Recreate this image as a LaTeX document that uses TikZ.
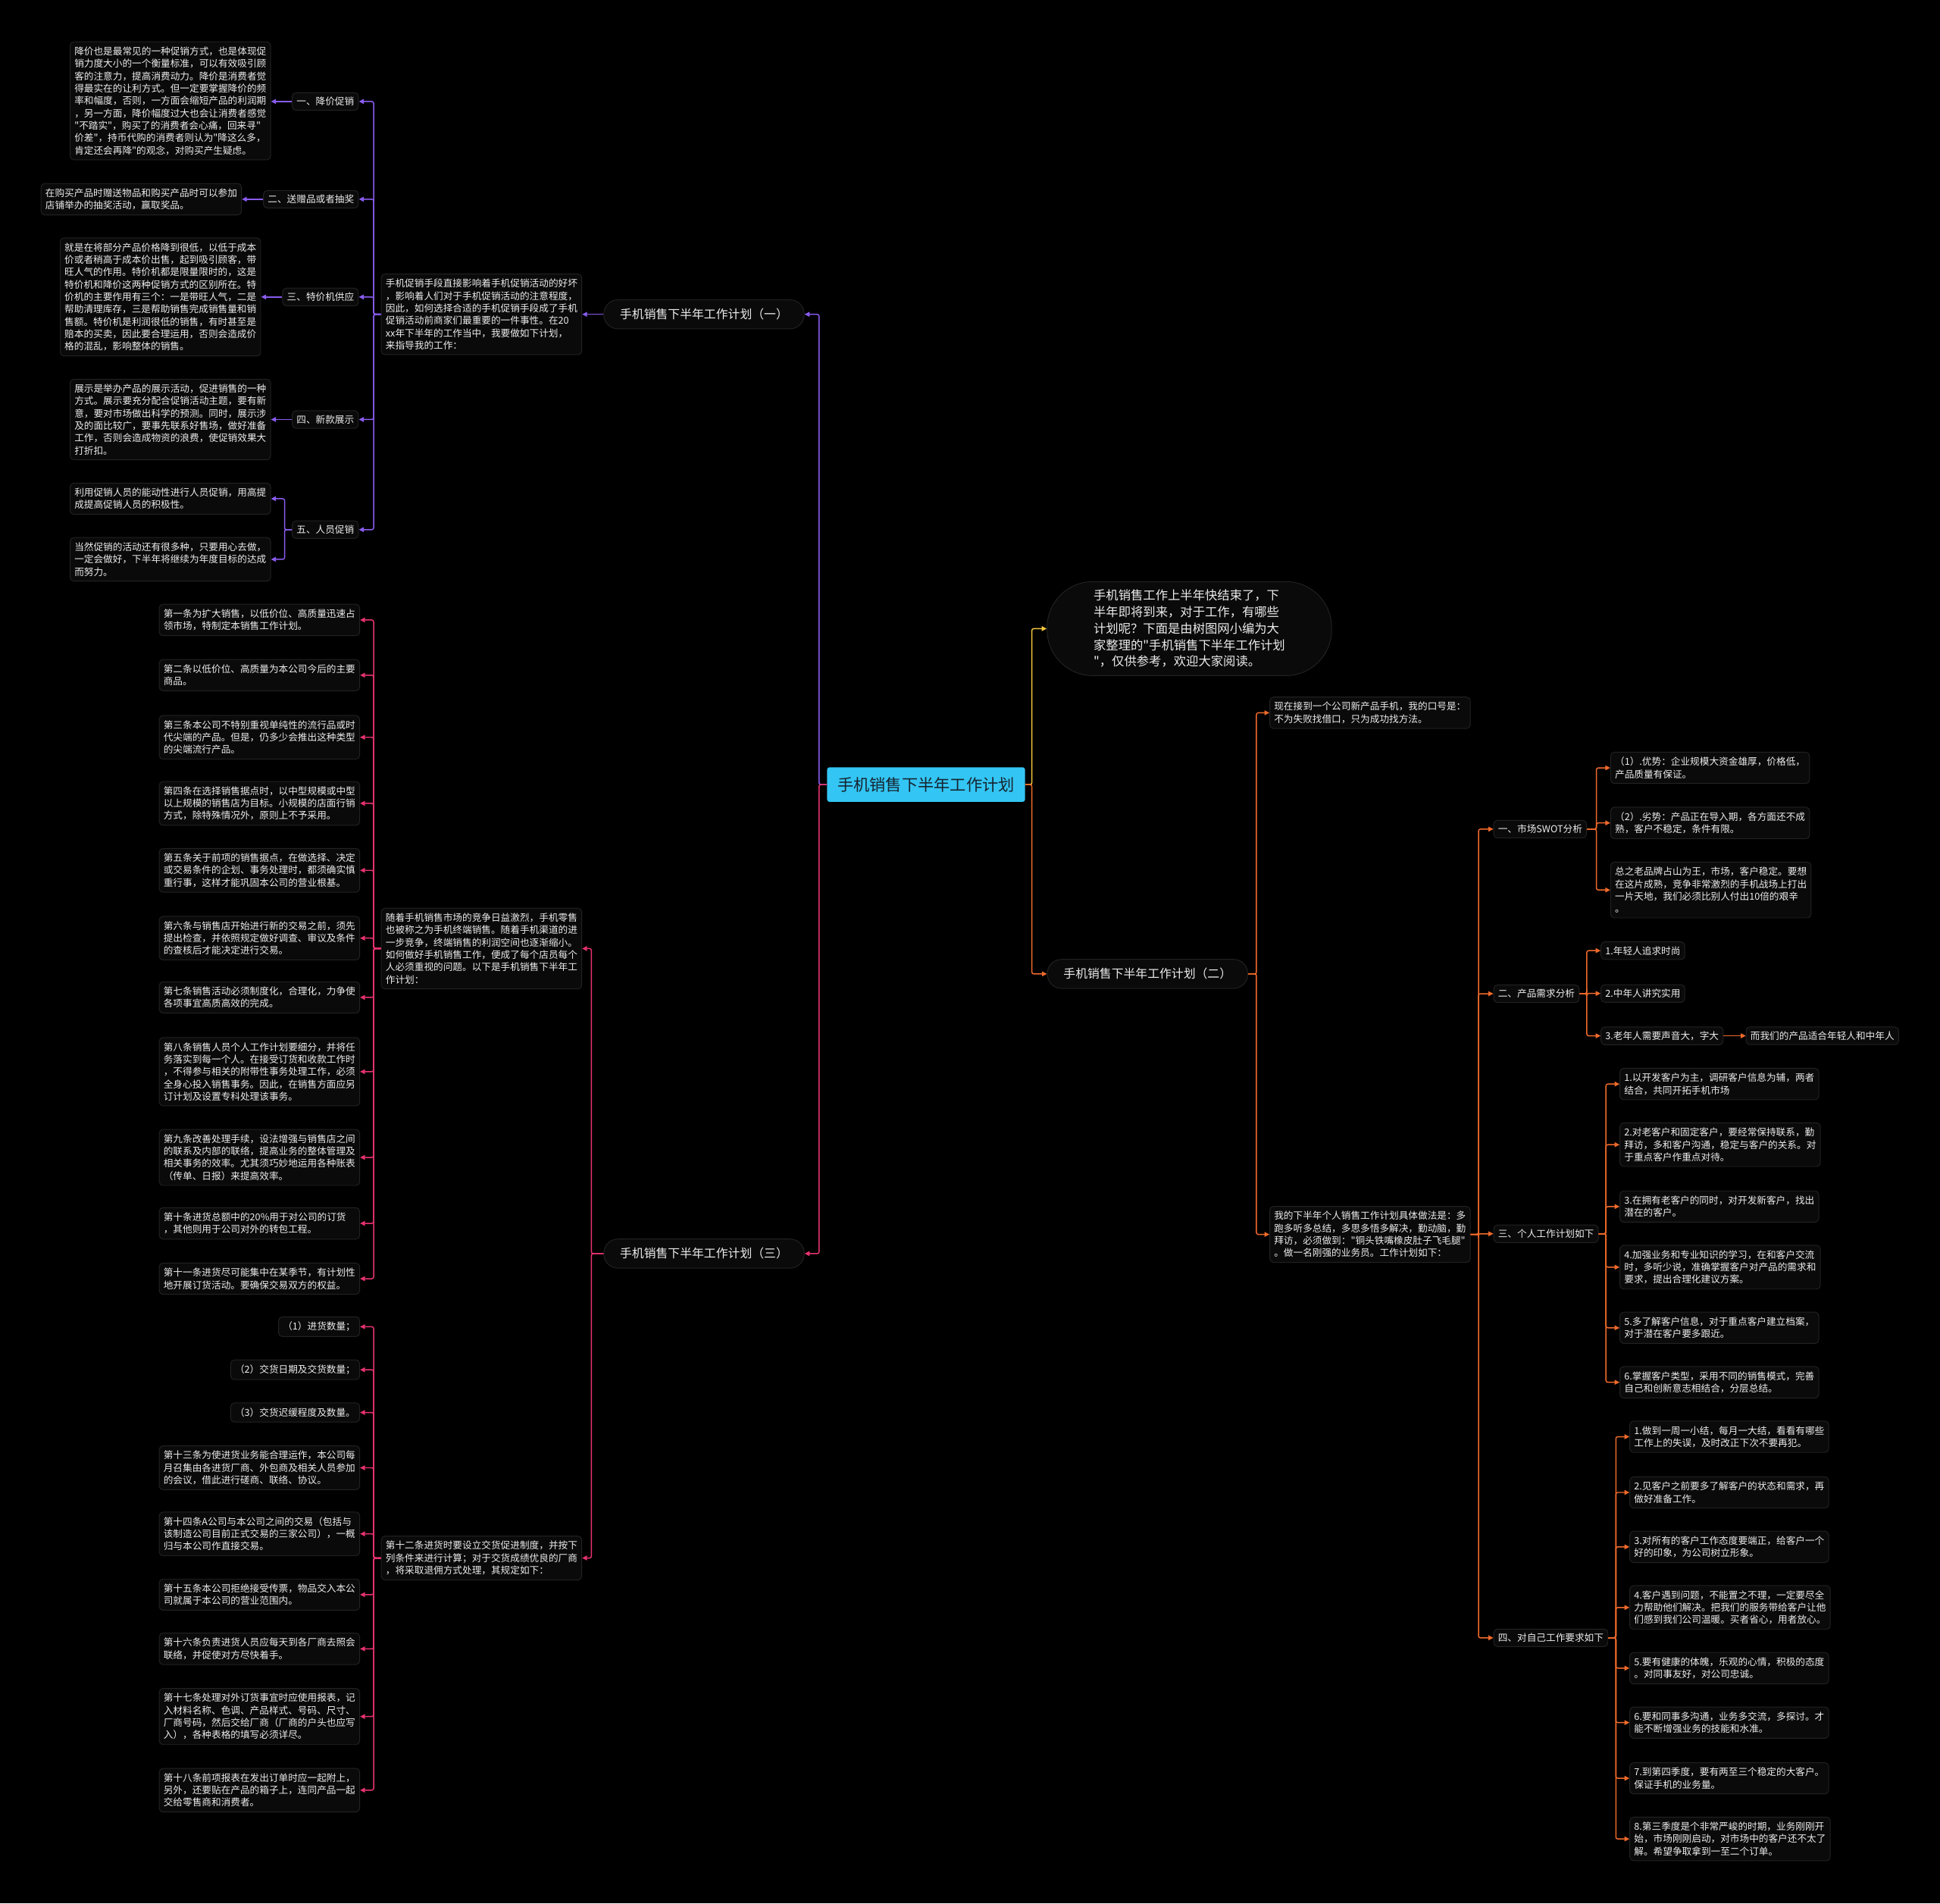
\documentclass[tikz,border=0pt]{standalone}
\usepackage{fontspec}
\newfontfamily\cjk{Noto Sans CJK SC}
\usetikzlibrary{arrows.meta}
\definecolor{pur}{HTML}{8A5CF0}
\definecolor{pnk}{HTML}{E8336F}
\definecolor{org}{HTML}{F06A2B}
\definecolor{yel}{HTML}{F5C63C}
\definecolor{bxf}{HTML}{0A0A0A}
\definecolor{bd}{HTML}{222222}
\definecolor{txt}{HTML}{EDEDED}
\definecolor{cyn}{HTML}{33C5F3}
\definecolor{rtx}{HTML}{16232E}
\tikzset{
  tb/.style={draw=bd, fill=bxf, line width=0.6pt, rounded corners=3pt, text=txt,
    font=\cjk\fontsize{7.75}{10}\selectfont, align=left, inner xsep=3.5pt, inner ysep=4pt},
  lb/.style={tb, inner ysep=3.5pt},
  sec/.style={draw=bd, fill=bxf, line width=0.6pt, rounded corners=11.5pt, text=txt,
    font=\cjk\fontsize{9.7}{12}\selectfont, minimum width=162pt, minimum height=23.5pt, inner sep=0pt},
  cn/.style={line width=0.9pt, rounded corners=1.5pt, -{Triangle[length=4pt,width=3.8pt]}},
  pc/.style={cn, draw=pur},
  kc/.style={cn, draw=pnk},
  oc/.style={cn, draw=org},
  yc/.style={cn, draw=yel}
}
\begin{document}
\begin{tikzpicture}[x=1pt,y=-1pt]
\fill[black] (0,0) rectangle (1568,1538);
\useasboundingbox (0,0) rectangle (1568,1538);

% bus coordinates
\coordinate (bY) at (834,0);
\coordinate (bL) at (662,0);
\coordinate (bP) at (302,0);
\coordinate (b5) at (230,0);
\coordinate (bQ) at (478,0);
\coordinate (bR) at (302,0);
\coordinate (bO) at (1015.5,0);
\coordinate (bO2) at (1195,0);
\coordinate (bA) at (1290.3,0);
\coordinate (bB) at (1282.5,0);
\coordinate (bC) at (1298,0);
\coordinate (bD) at (1306,0);

% root
\node[fill=cyn, rounded corners=2pt, minimum width=160pt, minimum height=28pt,
  font=\cjk\fontsize{13}{15}\selectfont, text=rtx] (root) at (748.5,634) {手机销售下半年工作计划};

% intro bubble
\node[draw=bd, fill=bxf, line width=0.6pt, rounded corners=37pt, minimum width=230pt, minimum height=76pt,
  text=txt, align=left, font=\cjk\fontsize{10}{13.3}\selectfont] (bub) at (961.3,508)
  {手机销售工作上半年快结束了，下\\半年即将到来，对于工作，有哪些\\计划呢？下面是由树图网小编为大\\家整理的"手机销售下半年工作计划\\"，仅供参考，欢迎大家阅读。};

% sections
\node[sec] (s1) at (569,254) {手机销售下半年工作计划（一）};
\node[sec] (s2) at (927.5,787) {手机销售下半年工作计划（二）};
\node[sec] (s3) at (569,1013) {手机销售下半年工作计划（三）};

% ---------- purple subtree ----------
\node[tb, anchor=east] (in1) at (470.5,254) {手机促销手段直接影响着手机促销活动的好坏\\，影响着人们对于手机促销活动的注意程度，\\因此，如何选择合适的手机促销手段成了手机\\促销活动前商家们最重要的一件事性。在20\\xx年下半年的工作当中，我要做如下计划，\\来指导我的工作：};

\node[lb, anchor=east] (l1) at (290,82) {一、降价促销};
\node[lb, anchor=east] (l2) at (290,161) {二、送赠品或者抽奖};
\node[lb, anchor=east] (l3) at (290,240) {三、特价机供应};
\node[lb, anchor=east] (l4) at (290,339) {四、新款展示};
\node[lb, anchor=east] (l5) at (290,428) {五、人员促销};

\node[tb, anchor=east] (t1) at (219,81.5) {降价也是最常见的一种促销方式，也是体现促\\销力度大小的一个衡量标准，可以有效吸引顾\\客的注意力，提高消费动力。降价是消费者觉\\得最实在的让利方式。但一定要掌握降价的频\\率和幅度，否则，一方面会缩短产品的利润期\\，另一方面，降价幅度过大也会让消费者感觉\\"不踏实"，购买了的消费者会心痛，回来寻"\\价差"，持币代购的消费者则认为"降这么多，\\肯定还会再降"的观念，对购买产生疑虑。};
\node[tb, anchor=east] (t2) at (195.5,161) {在购买产品时赠送物品和购买产品时可以参加\\店铺举办的抽奖活动，赢取奖品。};
\node[tb, anchor=east] (t3) at (211,240) {就是在将部分产品价格降到很低，以低于成本\\价或者稍高于成本价出售，起到吸引顾客，带\\旺人气的作用。特价机都是限量限时的，这是\\特价机和降价这两种促销方式的区别所在。特\\价机的主要作用有三个：一是带旺人气，二是\\帮助清理库存，三是帮助销售完成销售量和销\\售额。特价机是利润很低的销售，有时甚至是\\赔本的买卖，因此要合理运用，否则会造成价\\格的混乱，影响整体的销售。};
\node[tb, anchor=east] (t4) at (219,339) {展示是举办产品的展示活动，促进销售的一种\\方式。展示要充分配合促销活动主题，要有新\\意，要对市场做出科学的预测。同时，展示涉\\及的面比较广，要事先联系好售场，做好准备\\工作，否则会造成物资的浪费，使促销效果大\\打折扣。};
\node[tb, anchor=east] (t5a) at (219,403) {利用促销人员的能动性进行人员促销，用高提\\成提高促销人员的积极性。};
\node[tb, anchor=east] (t5b) at (219,452) {当然促销的活动还有很多种，只要用心去做，\\一定会做好，下半年将继续为年度目标的达成\\而努力。};

% ---------- pink subtree ----------
\node[tb, anchor=east] (in3) at (470.5,766.5) {随着手机销售市场的竞争日益激烈，手机零售\\也被称之为手机终端销售。随着手机渠道的进\\一步竞争，终端销售的利润空间也逐渐缩小。\\如何做好手机销售工作，便成了每个店员每个\\人必须重视的问题。以下是手机销售下半年工\\作计划：};
\node[tb, anchor=east] (tw) at (470.5,1259) {第十二条进货时要设立交货促进制度，并按下\\列条件来进行计算；对于交货成绩优良的厂商\\，将采取退佣方式处理，其规定如下：};

\node[tb, anchor=east] (r1) at (291,501) {第一条为扩大销售，以低价位、高质量迅速占\\领市场，特制定本销售工作计划。};
\node[tb, anchor=east] (r2) at (291,545.6) {第二条以低价位、高质量为本公司今后的主要\\商品。};
\node[tb, anchor=east] (r3) at (291,595.8) {第三条本公司不特别重视单纯性的流行品或时\\代尖端的产品。但是，仍多少会推出这种类型\\的尖端流行产品。};
\node[tb, anchor=east] (r4) at (291,649.2) {第四条在选择销售据点时，以中型规模或中型\\以上规模的销售店为目标。小规模的店面行销\\方式，除特殊情况外，原则上不予采用。};
\node[tb, anchor=east] (r5) at (291,703.3) {第五条关于前项的销售据点，在做选择、决定\\或交易条件的企划、事务处理时，都须确实慎\\重行事，这样才能巩固本公司的营业根基。};
\node[tb, anchor=east] (r6) at (291,758.1) {第六条与销售店开始进行新的交易之前，须先\\提出检查，并依照规定做好调查、审议及条件\\的查核后才能决定进行交易。};
\node[tb, anchor=east] (r7) at (291,806) {第七条销售活动必须制度化，合理化，力争使\\各项事宜高质高效的完成。};
\node[tb, anchor=east] (r8) at (291,866) {第八条销售人员个人工作计划要细分，并将任\\务落实到每一个人。在接受订货和收款工作时\\，不得参与相关的附带性事务处理工作，必须\\全身心投入销售事务。因此，在销售方面应另\\订计划及设置专科处理该事务。};
\node[tb, anchor=east] (r9) at (291,935.3) {第九条改善处理手续，设法增强与销售店之间\\的联系及内部的联络，提高业务的整体管理及\\相关事务的效率。尤其须巧妙地运用各种账表\\（传单、日报）来提高效率。};
\node[tb, anchor=east, text width=155pt] (r10) at (291,988.6) {第十条进货总额中的20\%用于对公司的订货\\，其他则用于公司对外的转包工程。};
\node[tb, anchor=east] (r11) at (291,1033.3) {第十一条进货尽可能集中在某季节，有计划性\\地开展订货活动。要确保交易双方的权益。};

\node[tb, anchor=east] (q1) at (291,1072.1) {（1）进货数量；};
\node[tb, anchor=east] (q2) at (291,1106.9) {（2）交货日期及交货数量；};
\node[tb, anchor=east] (q3) at (291,1141.4) {（3）交货迟缓程度及数量。};
\node[tb, anchor=east] (q4) at (291,1186.1) {第十三条为使进货业务能合理运作，本公司每\\月召集由各进货厂商、外包商及相关人员参加\\的会议，借此进行磋商、联络、协议。};
\node[tb, anchor=east] (q5) at (291,1239.5) {第十四条A公司与本公司之间的交易（包括与\\该制造公司目前正式交易的三家公司），一概\\归与本公司作直接交易。};
\node[tb, anchor=east] (q6) at (291,1288.6) {第十五条本公司拒绝接受传票，物品交入本公\\司就属于本公司的营业范围内。};
\node[tb, anchor=east] (q7) at (291,1332.4) {第十六条负责进货人员应每天到各厂商去照会\\联络，并促使对方尽快着手。};
\node[tb, anchor=east] (q8) at (291,1387.1) {第十七条处理对外订货事宜时应使用报表，记\\入材料名称、色调、产品样式、号码、尺寸、\\厂商号码，然后交给厂商（厂商的户头也应写\\入），各种表格的填写必须详尽。};
\node[tb, anchor=east] (q9) at (291,1446.6) {第十八条前项报表在发出订单时应一起附上，\\另外，还要贴在产品的箱子上，连同产品一起\\交给零售商和消费者。};

% ---------- orange subtree ----------
\node[tb, anchor=west] (n1) at (1026,576) {现在接到一个公司新产品手机，我的口号是：\\不为失败找借口，只为成功找方法。};
\node[tb, anchor=west] (n2) at (1026,997.5) {我的下半年个人销售工作计划具体做法是：多\\跑多听多总结，多思多悟多解决，勤动脑，勤\\拜访，必须做到："铜头铁嘴橡皮肚子飞毛腿"\\。做一名刚强的业务员。工作计划如下：};

\node[lb, anchor=west] (g1) at (1207,670) {一、市场SWOT分析};
\node[lb, anchor=west] (g2) at (1207,803) {二、产品需求分析};
\node[lb, anchor=west] (g3) at (1207,997) {三、个人工作计划如下};
\node[lb, anchor=west] (g4) at (1207,1323.5) {四、对自己工作要求如下};

\node[tb, anchor=west] (a1) at (1301.5,620.5) {（1）.优势：企业规模大资金雄厚，价格低，\\产品质量有保证。};
\node[tb, anchor=west] (a2) at (1301.5,665) {（2）.劣势：产品正在导入期，各方面还不成\\熟，客户不稳定，条件有限。};
\node[tb, anchor=west] (a3) at (1301.5,719.2) {总之老品牌占山为王，市场，客户稳定。要想\\在这片成熟，竞争非常激烈的手机战场上打出\\一片天地，我们必须比别人付出10倍的艰辛\\。};

\node[lb, anchor=west] (b1) at (1293.7,768.2) {1.年轻人追求时尚};
\node[lb, anchor=west] (b2) at (1293.7,802.8) {2.中年人讲究实用};
\node[lb, anchor=west] (b3) at (1293.7,837) {3.老年人需要声音大，字大};
\node[lb, anchor=west] (b4) at (1411,837) {而我们的产品适合年轻人和中年人};

\node[tb, anchor=west] (c1) at (1309,876) {1.以开发客户为主，调研客户信息为辅，两者\\结合，共同开拓手机市场};
\node[tb, anchor=west] (c2) at (1309,925) {2.对老客户和固定客户，要经常保持联系，勤\\拜访，多和客户沟通，稳定与客户的关系。对\\于重点客户作重点对待。};
\node[tb, anchor=west] (c3) at (1309,975) {3.在拥有老客户的同时，对开发新客户，找出\\潜在的客户。};
\node[tb, anchor=west] (c4) at (1309,1024) {4.加强业务和专业知识的学习，在和客户交流\\时，多听少说，准确掌握客户对产品的需求和\\要求，提出合理化建议方案。};
\node[tb, anchor=west] (c5) at (1309,1073) {5.多了解客户信息，对于重点客户建立档案，\\对于潜在客户要多跟近。};
\node[tb, anchor=west] (c6) at (1309,1117) {6.掌握客户类型，采用不同的销售模式，完善\\自己和创新意志相结合，分层总结。};

\node[tb, anchor=west] (d1) at (1317,1161) {1.做到一周一小结，每月一大结，看看有哪些\\工作上的失误，及时改正下次不要再犯。};
\node[tb, anchor=west] (d2) at (1317,1206) {2.见客户之前要多了解客户的状态和需求，再\\做好准备工作。};
\node[tb, anchor=west] (d3) at (1317,1250) {3.对所有的客户工作态度要端正，给客户一个\\好的印象，为公司树立形象。};
\node[tb, anchor=west] (d4) at (1317,1299) {4.客户遇到问题，不能置之不理，一定要尽全\\力帮助他们解决。把我们的服务带给客户让他\\们感到我们公司温暖。买者省心，用者放心。};
\node[tb, anchor=west] (d5) at (1317,1348) {5.要有健康的体魄，乐观的心情，积极的态度\\。对同事友好，对公司忠诚。};
\node[tb, anchor=west] (d6) at (1317,1392) {6.要和同事多沟通，业务多交流，多探讨。才\\能不断增强业务的技能和水准。};
\node[tb, anchor=west] (d7) at (1317,1437) {7.到第四季度，要有两至三个稳定的大客户。\\保证手机的业务量。};
\node[tb, anchor=west] (d8) at (1317,1486) {8.第三季度是个非常严峻的时期，业务刚刚开\\始，市场刚刚启动，对市场中的客户还不太了\\解。希望争取拿到一至二个订单。};

% ---------- connectors ----------
\draw[yc] (root.east) -- (root.east -| bY) |- (bub.west);
\draw[oc] (root.east) -- (root.east -| bY) |- (s2.west);
\draw[pc] (root.west) -- (root.west -| bL) |- (s1.east);
\draw[kc] (root.west) -- (root.west -| bL) |- (s3.east);

\draw[pc] (s1.west) -- (in1.east);
\foreach \n in {l1,l2,l3,l4,l5} \draw[pc] (in1.west) -- (in1.west -| bP) |- (\n.east);
\draw[pc] (l1.west) -- (l1.west -| t1.east);
\draw[pc] (l2.west) -- (l2.west -| t2.east);
\draw[pc] (l3.west) -- (l3.west -| t3.east);
\draw[pc] (l4.west) -- (l4.west -| t4.east);
\draw[pc] (l5.west) -- (l5.west -| b5) |- (t5a.east);
\draw[pc] (l5.west) -- (l5.west -| b5) |- (t5b.east);

\draw[kc] (s3.west) -- (s3.west -| bQ) |- (in3.east);
\draw[kc] (s3.west) -- (s3.west -| bQ) |- (tw.east);
\foreach \n in {r1,r2,r3,r4,r5,r6,r7,r8,r9,r10,r11} \draw[kc] (in3.west) -- (in3.west -| bR) |- (\n.east);
\foreach \n in {q1,q2,q3,q4,q5,q6,q7,q8,q9} \draw[kc] (tw.west) -- (tw.west -| bR) |- (\n.east);

\draw[oc] (s2.east) -- (s2.east -| bO) |- (n1.west);
\draw[oc] (s2.east) -- (s2.east -| bO) |- (n2.west);
\foreach \n in {g1,g2,g3,g4} \draw[oc] (n2.east) -- (n2.east -| bO2) |- (\n.west);
\foreach \n in {a1,a2,a3} \draw[oc] (g1.east) -- (g1.east -| bA) |- (\n.west);
\foreach \n in {b1,b2,b3} \draw[oc] (g2.east) -- (g2.east -| bB) |- (\n.west);
\draw[oc] (b3.east) -- (b4.west);
\foreach \n in {c1,c2,c3,c4,c5,c6} \draw[oc] (g3.east) -- (g3.east -| bC) |- (\n.west);
\foreach \n in {d1,d2,d3,d4,d5,d6,d7,d8} \draw[oc] (g4.east) -- (g4.east -| bD) |- (\n.west);
\end{tikzpicture}
\end{document}
